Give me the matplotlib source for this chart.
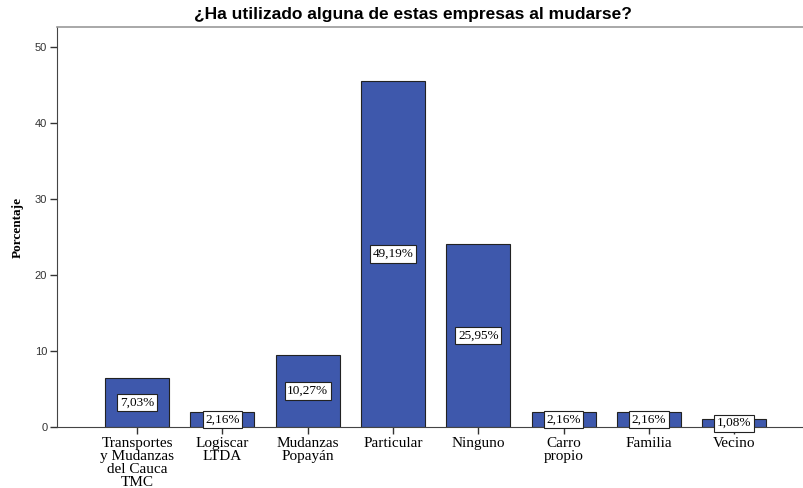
import matplotlib.pyplot as plt

# datos
categorias = ['Transportes\ny Mudanzas\ndel Cauca\nTMC', 'Logiscar\nLTDA', 'Mudanzas\nPopayán',
              'Particular', 'Ninguno', 'Carro\npropio', 'Familia', 'Vecino']
porcentaje = [6.5, 2.0, 9.5, 45.5, 24.0, 2.0, 2.0, 1.0]
etiquetas = ['7,03%', '2,16%', '10,27%', '49,19%', '25,95%', '2,16%', '2,16%', '1,08%']
yticks = [0, 10, 20, 30, 40, 50]

fig = plt.figure(figsize=(8.04, 4.88), dpi=100)
ax = fig.add_axes([57 / 804, 1 - 427 / 488, 1 - 57 / 804, 400 / 488])

x = range(len(categorias))
ax.bar(x, porcentaje, width=0.75, color='#3e58ac', edgecolor='#222222', linewidth=0.8, zorder=2)

for i, (v, t) in enumerate(zip(porcentaje, etiquetas)):
    ax.text(i, v / 2, t, ha='center', va='center', fontsize=9.5, family='Liberation Serif',
            bbox=dict(boxstyle='square,pad=0.2', facecolor='white', edgecolor='#222222', linewidth=0.8),
            zorder=3)

ax.set_xlim(-0.94, 7.82)
ax.set_ylim(0, 52.6)
ax.set_xticks(list(x))
ax.set_xticklabels(categorias, family='Liberation Serif', fontsize=11, linespacing=1.0)
ax.set_yticks(yticks)
ax.set_yticklabels([str(t) for t in yticks], family='Liberation Sans', fontsize=8, color='#333333')
ax.tick_params(axis='both', length=5, width=1, color='#333333', pad=2)

ax.spines['right'].set_visible(False)
ax.spines['top'].set_color('#999999')
ax.spines['top'].set_linewidth(1.2)
ax.spines['left'].set_color('#444444')
ax.spines['bottom'].set_color('#444444')

ax.set_ylabel('Porcentaje', family='Liberation Serif', fontweight='bold', fontsize=9.5, labelpad=8)

fig.text(413 / 804, 1 - 14 / 488, '¿Ha utilizado alguna de estas empresas al mudarse?',
         ha='center', va='center', family='Liberation Sans', fontweight='bold', fontsize=12.5)

fig.savefig('out.png', dpi=100)
